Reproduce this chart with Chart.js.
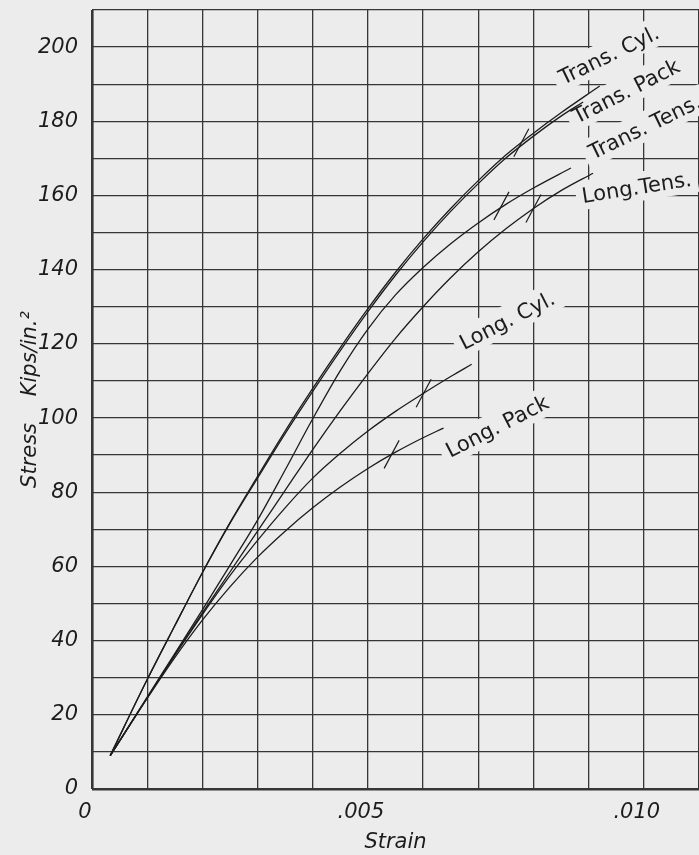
<!DOCTYPE html>
<html>
<head>
<meta charset="utf-8">
<script src="https://cdn.jsdelivr.net/npm/chart.js@4.4.1/dist/chart.umd.min.js"></script>
<style>
  html, body { margin: 0; padding: 0; background: #ececec; }
</style>
</head>
<body>
<canvas id="chart" width="699" height="855"></canvas>
<script>
// values: strain (in./in.) vs stress (kips/in.^2)
const transCylStrain = [0.00033, 0.0010, 0.0015, 0.0020, 0.0025, 0.0030, 0.0035, 0.0040, 0.0045, 0.0050, 0.0055, 0.0060, 0.0065, 0.0070, 0.0075, 0.0080, 0.0085, 0.0092]
const transCylStress = [9, 29.5, 44, 58.3, 71.8, 84.3, 96.5, 108, 119, 129.5, 139.3, 148.3, 156.5, 164, 170.9, 176.8, 182.3, 189.5]

const transPackStrain = [0.00033, 0.0010, 0.0015, 0.0020, 0.0025, 0.0030, 0.0035, 0.0040, 0.0045, 0.0050, 0.0055, 0.0060, 0.0065, 0.0070, 0.0075, 0.0080, 0.0085, 0.0089]
const transPackStress = [9, 29.5, 44, 58.3, 71.6, 83.8, 95.8, 107.2, 118.2, 128.7, 138.5, 147.5, 155.7, 163.2, 170.1, 176, 181.4, 185.2]

const transTensStrain = [0.00033, 0.0010, 0.0015, 0.0020, 0.0025, 0.0030, 0.0035, 0.0040, 0.0045, 0.0050, 0.0055, 0.0060, 0.0065, 0.0070, 0.0075, 0.0080, 0.00868]
const transTensStress = [9, 24.8, 36.5, 48.3, 60.3, 72.5, 86, 99.8, 112.8, 124, 133.2, 140.6, 147, 152.6, 157.6, 162, 167.4]

const longTensStrain = [0.00033, 0.0010, 0.0015, 0.0020, 0.0025, 0.0030, 0.0035, 0.0040, 0.0045, 0.0050, 0.0055, 0.0060, 0.0065, 0.0070, 0.0075, 0.0080, 0.0085, 0.00908]
const longTensStress = [9, 24.6, 36.2, 47.5, 58.5, 69.5, 80.5, 91.5, 102, 112, 121.5, 130, 137.8, 144.8, 151, 156.5, 161.3, 166]

const longCylStrain = [0.00033, 0.0010, 0.0015, 0.0020, 0.0025, 0.0030, 0.0035, 0.0040, 0.0045, 0.0050, 0.0055, 0.0060, 0.0065, 0.00688]
const longCylStress = [9, 24.6, 36, 47, 57.5, 67, 75.8, 83.8, 90.5, 96.5, 101.8, 106.6, 111.2, 114.5]

const longPackStrain = [0.00033, 0.0010, 0.0015, 0.0020, 0.0025, 0.0030, 0.0035, 0.0040, 0.0045, 0.0050, 0.0055, 0.0060, 0.00637]
const longPackStress = [9, 24.4, 35.4, 45.5, 54.5, 62.5, 69.5, 75.8, 81.4, 86.4, 90.8, 94.7, 97.3]

// short slash marks drawn across the curves
const markStrain = [0.00778, 0.00742, 0.0080, 0.00601, 0.00543]
const markStress = [174.2, 157.2, 156.5, 106.7, 90.2]

// curve names, written beside the curve ends
const curveNames = ['Trans. Cyl.', 'Trans. Pack', 'Trans. Tens.', 'Long.Tens.', 'Long. Cyl.', 'Long. Pack']
const nameStrain = [0.00854, 0.00879, 0.00908, 0.0089, 0.00674, 0.00649]
const nameStress = [189.8, 179.3, 169.6, 158, 118.3, 89.2]
const nameAngle = [-26, -27, -26, -9, -27, -27]

const PAPER = '#ececec'
const INK = '#1c1c1c'
const FONT = "'DejaVu Sans', sans-serif"

const toPoints = (xs, ys) => xs.map((x, i) => ({ x: x, y: ys[i] }))

const curve = (label, xs, ys) => ({
  label: label,
  data: toPoints(xs, ys),
  showLine: true,
  borderColor: INK,
  borderWidth: 1.3,
  pointRadius: 0,
  cubicInterpolationMode: 'monotone',
})

const paper = {
  id: 'paper',
  beforeDraw(chart) {
    const ctx = chart.ctx
    ctx.save()
    ctx.fillStyle = PAPER
    ctx.fillRect(0, 0, chart.width, chart.height)
    ctx.restore()
  },
}

const nameLayout = chart => {
  const { x, y } = chart.scales
  const ctx = chart.ctx
  ctx.font = '21px ' + FONT
  return curveNames.map((name, i) => ({
    name: name,
    px: x.getPixelForValue(nameStrain[i]),
    py: y.getPixelForValue(nameStress[i]),
    rot: nameAngle[i] * Math.PI / 180,
    w: ctx.measureText(name).width,
  }))
}

const curveNotes = {
  id: 'curveNotes',
  beforeDatasetsDraw(chart) {
    // blank out the grid behind each name, like the lettering on the sheet
    const ctx = chart.ctx
    ctx.save()
    nameLayout(chart).forEach(n => {
      ctx.save()
      ctx.translate(n.px, n.py)
      ctx.rotate(n.rot)
      ctx.fillStyle = PAPER
      ctx.fillRect(-6, -22, n.w + 12, 29)
      ctx.restore()
    })
    ctx.restore()
  },
  afterDatasetsDraw(chart) {
    const ctx = chart.ctx
    const { x, y } = chart.scales
    ctx.save()
    ctx.strokeStyle = INK
    ctx.lineWidth = 1.2
    markStrain.forEach((s, i) => {
      const px = x.getPixelForValue(s)
      const py = y.getPixelForValue(markStress[i])
      ctx.beginPath()
      ctx.moveTo(px - 7.5, py + 14)
      ctx.lineTo(px + 7.5, py - 14)
      ctx.stroke()
    })
    ctx.fillStyle = INK
    ctx.font = '21px ' + FONT
    ctx.textAlign = 'left'
    ctx.textBaseline = 'alphabetic'
    nameLayout(chart).forEach(n => {
      ctx.save()
      ctx.translate(n.px, n.py)
      ctx.rotate(n.rot)
      ctx.fillText(n.name, 0, 0)
      ctx.restore()
    })
    ctx.restore()
  },
}

const gridWidth = c => (c.tick && c.tick.value === 0 ? 2.6 : 1.3)
const tickFont = { family: FONT, size: 21, style: 'italic' }

new Chart(document.getElementById('chart'), {
  type: 'scatter',
  data: {
    datasets: [
      curve('Trans. Cyl.', transCylStrain, transCylStress),
      curve('Trans. Pack', transPackStrain, transPackStress),
      curve('Trans. Tens.', transTensStrain, transTensStress),
      curve('Long. Tens.', longTensStrain, longTensStress),
      curve('Long. Cyl.', longCylStrain, longCylStress),
      curve('Long. Pack', longPackStrain, longPackStress),
    ],
  },
  options: {
    responsive: false,
    animation: false,
    layout: { padding: { top: 10, right: 0, bottom: 0, left: 0 } },
    plugins: {
      legend: { display: false },
      tooltip: { enabled: false },
    },
    scales: {
      x: {
        type: 'linear',
        min: 0,
        max: 0.011,
        afterFit: s => {
          s.height = 66
          s.paddingLeft = 0
          s.paddingRight = 0
        },
        border: { display: false },
        grid: { color: '#363636', lineWidth: gridWidth, drawTicks: false },
        ticks: {
          stepSize: 0.001,
          autoSkip: false,
          maxRotation: 0,
          maxTicksLimit: 40,
          padding: 11,
          labelOffset: -7,
          color: INK,
          font: tickFont,
          callback: v => {
            const k = Math.round(v * 1000)
            return k === 0 ? '0' : k === 5 ? '.005' : k === 10 ? '.010' : ''
          },
        },
        title: {
          display: true,
          text: 'Strain',
          color: INK,
          font: tickFont,
          padding: { top: 0, bottom: 0 },
        },
      },
      y: {
        type: 'linear',
        min: 0,
        max: 210,
        afterFit: s => {
          s.width = 92
          s.paddingTop = 0
          s.paddingBottom = 0
        },
        border: { display: false },
        grid: { color: '#363636', lineWidth: gridWidth, drawTicks: false },
        ticks: {
          stepSize: 10,
          autoSkip: false,
          maxTicksLimit: 40,
          padding: 14,
          color: INK,
          font: tickFont,
          callback: v => (v % 20 === 0 && v <= 200 ? String(v) : ''),
        },
        title: {
          display: true,
          text: 'Stress    Kips/in.²',
          color: INK,
          font: tickFont,
          padding: { top: 18, bottom: 0 },
        },
      },
    },
  },
  plugins: [paper, curveNotes],
})
</script>
</body>
</html>
